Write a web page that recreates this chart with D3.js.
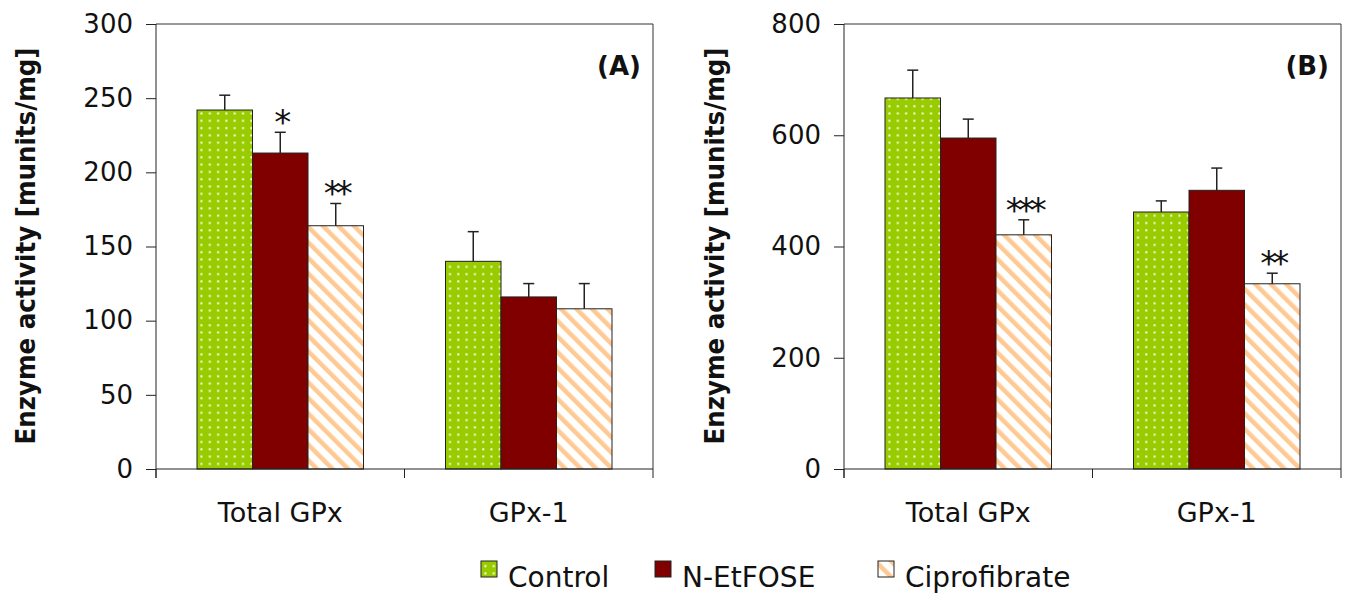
<!DOCTYPE html>
<html>
<head>
<meta charset="utf-8">
<script src="https://cdn.jsdelivr.net/npm/d3@7"></script>
<style>
  body { margin: 0; background: #fff; }
  text { font-family: "DejaVu Sans", Verdana, sans-serif; fill: #111; }
</style>
</head>
<body>
<div id="vis-container"></div>
<script>
// data
const categories = ["Total GPx", "GPx-1"];
const series = ["Control", "N-EtFOSE", "Ciprofibrate"];

// rows = categories, columns = series
const meanA = [[242, 213, 164], [140, 116, 108]];
const errA = [[10, 14, 15], [20, 9, 17]];
const starsA = [["", "*", "**"], ["", "", ""]];
const ticksA = [0, 50, 100, 150, 200, 250, 300];

const meanB = [[667, 595, 421], [462, 501, 333]];
const errB = [[50, 34, 27], [20, 40, 19]];
const starsB = [["", "", "***"], ["", "", "**"]];
const ticksB = [0, 200, 400, 600, 800];

const width = 1352, height = 597;
const fills = ["url(#dots)", "#800000", "url(#stripes)"];

let svg = d3.select("#vis-container").append("svg")
    .attr("width", width)
    .attr("height", height);

svg.append("rect").attr("width", width).attr("height", height).attr("fill", "#fff");

// fill patterns (green with white dots, light orange diagonal stripes)
let defs = svg.append("defs");
let dots = defs.append("pattern").attr("id", "dots")
    .attr("patternUnits", "userSpaceOnUse")
    .attr("width", 8.3).attr("height", 7.3);
dots.append("rect").attr("width", 8.3).attr("height", 7.3).attr("fill", "#99cc00");
dots.append("rect").attr("x", 3).attr("y", 3).attr("width", 2).attr("height", 2).attr("fill", "#f8fbe8");

let stripes = defs.append("pattern").attr("id", "stripes")
    .attr("patternUnits", "userSpaceOnUse")
    .attr("width", 11).attr("height", 11)
    .attr("patternTransform", "rotate(-45)");
stripes.append("rect").attr("width", 11).attr("height", 11).attr("fill", "#fff");
stripes.append("rect").attr("width", 4.5).attr("height", 11).attr("fill", "#ffc993");

function drawPanel(opts) {
    let means = opts.means, errs = opts.errs, stars = opts.stars;
    let top = 24, bottom = 469;

    let y = d3.scaleLinear().domain([0, d3.max(opts.ticks)]).range([bottom, top]);
    let x0 = d3.scaleBand().domain(categories).range([opts.left, opts.right]);
    let bw = x0.bandwidth();
    let x1 = d3.scaleBand().domain(series).range([bw * 0.165, bw * 0.835]);

    let g = svg.append("g");

    // plot frame (top and right)
    g.append("path")
        .attr("d", "M" + opts.left + "," + top + "H" + opts.right + "V" + bottom)
        .attr("fill", "none").attr("stroke", "#333").attr("stroke-width", 1);

    // bars
    categories.forEach((c, ci) => {
        let cg = g.append("g").attr("transform", "translate(" + x0(c) + ",0)");
        cg.selectAll("rect")
            .data(series)
            .join("rect")
            .attr("x", s => x1(s))
            .attr("y", (s, si) => y(means[ci][si]))
            .attr("width", x1.bandwidth())
            .attr("height", (s, si) => y(0) - y(means[ci][si]))
            .attr("fill", (s, si) => fills[si])
            .attr("stroke", "#222")
            .attr("stroke-width", 1);

        // error bars (upper only)
        series.forEach((s, si) => {
            let cx = x1(s) + x1.bandwidth() / 2;
            let yTop = y(means[ci][si] + errs[ci][si]);
            cg.append("line")
                .attr("x1", cx).attr("x2", cx)
                .attr("y1", y(means[ci][si])).attr("y2", yTop)
                .attr("stroke", "#222").attr("stroke-width", 1.5);
            cg.append("line")
                .attr("x1", cx - 5.5).attr("x2", cx + 5.5)
                .attr("y1", yTop).attr("y2", yTop)
                .attr("stroke", "#222").attr("stroke-width", 1.5);
            if (stars[ci][si]) {
                cg.append("text")
                    .attr("x", cx)
                    .attr("y", yTop + 2)
                    .attr("text-anchor", "middle")
                    .attr("font-size", 34)
                    .attr("letter-spacing", -5)
                    .text(stars[ci][si]);
            }
        });
    });

    // y axis
    let yAxis = g.append("g")
        .attr("transform", "translate(" + opts.left + ",0)")
        .call(d3.axisLeft(y).tickValues(opts.ticks).tickSize(10).tickPadding(13).tickSizeOuter(0));
    yAxis.select(".domain").remove();
    yAxis.selectAll(".tick line").attr("stroke", "#222");
    yAxis.selectAll(".tick text").attr("font-size", 26).attr("font-family", "DejaVu Sans").attr("fill", "#111");
    g.append("line")
        .attr("x1", opts.left).attr("x2", opts.left)
        .attr("y1", top).attr("y2", bottom + 9)
        .attr("stroke", "#222");

    // x axis with ticks between categories
    g.append("line")
        .attr("x1", opts.left).attr("x2", opts.right)
        .attr("y1", bottom).attr("y2", bottom)
        .attr("stroke", "#222");
    let bounds = categories.map(c => x0(c)).concat([opts.right]);
    g.selectAll(".ctick")
        .data(bounds)
        .join("line")
        .attr("x1", d => d).attr("x2", d => d)
        .attr("y1", bottom).attr("y2", bottom + 9)
        .attr("stroke", "#222");
    g.selectAll(".clabel")
        .data(categories)
        .join("text")
        .attr("x", c => x0(c) + bw / 2)
        .attr("y", 522)
        .attr("text-anchor", "middle")
        .attr("font-size", 27)
        .text(c => c);

    // y title
    g.append("text")
        .attr("transform", "translate(" + opts.titleX + "," + 246 + ") rotate(-90)")
        .attr("text-anchor", "middle")
        .attr("font-size", 27)
        .attr("font-weight", "bold")
        .attr("textLength", 397)
        .attr("lengthAdjust", "spacingAndGlyphs")
        .text("Enzyme activity [munits/mg]");

    // panel letter
    g.append("text")
        .attr("x", opts.right - 12)
        .attr("y", 75)
        .attr("text-anchor", "end")
        .attr("font-size", 26)
        .attr("font-weight", "bold")
        .text(opts.label);
}

drawPanel({ left: 156, right: 653, titleX: 35, means: meanA, errs: errA, stars: starsA, ticks: ticksA, label: "(A)" });
drawPanel({ left: 844, right: 1341, titleX: 724, means: meanB, errs: errB, stars: starsB, ticks: ticksB, label: "(B)" });

// legend
let legendX = [481, 655, 878];
let legend = svg.append("g");
series.forEach((s, i) => {
    legend.append("rect")
        .attr("x", legendX[i]).attr("y", 561)
        .attr("width", 16).attr("height", 16)
        .attr("fill", fills[i])
        .attr("stroke", "#222");
    legend.append("text")
        .attr("x", legendX[i] + 27)
        .attr("y", 587)
        .attr("font-size", 28)
        .text(s);
});
</script>
</body>
</html>
